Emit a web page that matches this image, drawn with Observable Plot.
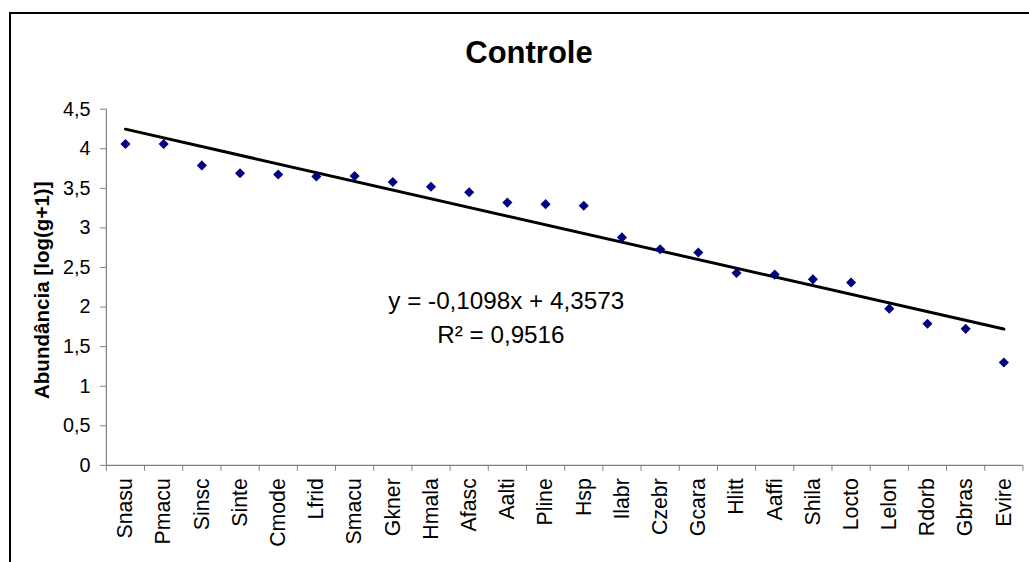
<!DOCTYPE html>
<html>
<head>
<meta charset="utf-8">
<script src="https://cdn.jsdelivr.net/npm/d3@7"></script>
<script src="https://cdn.jsdelivr.net/npm/@observablehq/plot@0.6"></script>
<style>
html, body { margin: 0; padding: 0; background: #fff; overflow: hidden; }
#wrap { position: relative; width: 1029px; height: 562px; overflow: hidden; font-family: "Liberation Sans", Arial, sans-serif; }
#frame { position: absolute; left: 9px; top: 12px; width: 1100px; height: 700px; border: 2px solid #000; box-sizing: border-box; pointer-events: none; }
#title { position: absolute; left: 0; top: 38px; width: 1058px; text-align: center; font-weight: bold; font-size: 31px; line-height: 30px; }
#chart { position: absolute; left: 0; top: 80px; }
#chart g[aria-label="y-axis tick label"] { font-size: 20px; }
#chart g[aria-label="x-axis tick label"] { font-size: 21.5px; }
</style>
</head>
<body>
<div id="wrap">
  <div id="title">Controle</div>
  <div id="chart"></div>
  <div id="frame"></div>
</div>
<script>
// Species (x categories), in rank order
const species = ["Snasu","Pmacu","Sinsc","Sinte","Cmode","Lfrid","Smacu","Gkner","Hmala","Afasc","Aalti","Pline",
                 "Hsp","Ilabr","Czebr","Gcara","Hlitt","Aaffi","Shila","Locto","Lelon","Rdorb","Gbras","Evire"];
// Abundance [log(g+1)]
const abundance = [4.06, 4.06, 3.79, 3.69, 3.675, 3.65, 3.655, 3.58, 3.52, 3.45, 3.32, 3.30,
                   3.28, 2.88, 2.73, 2.69, 2.43, 2.41, 2.35, 2.31, 1.98, 1.79, 1.725, 1.30];
// Y tick values
const yTicks = [0, 0.5, 1, 1.5, 2, 2.5, 3, 3.5, 4, 4.5];
// Linear trend shown on the chart
const slope = -0.1098;
const intercept = 4.3573;
const r2 = 0.9516;

const comma = s => String(s).replace(".", ",");
const data = species.map((s, i) => ({name: s, rank: i + 1, value: abundance[i]}));
const ranks = data.map(d => d.rank);
const bounds = [0, ...ranks].map(r => r + 0.5);
const trend = [ranks[0], ranks[ranks.length - 1]].map(r => ({rank: r, value: intercept + slope * r}));
const eqText = `y = ${comma(slope)}x + ${comma(intercept)}`;
const r2Text = `R² = ${comma(r2)}`;

const gray = "#808080";
const W = 1040, H = 482;
const chart = Plot.plot({
  width: W,
  height: H,
  marginLeft: 107,
  marginRight: W - (107 + 24 * 38.6),
  marginTop: 29,
  marginBottom: 93,
  style: {fontFamily: "'Liberation Sans', Arial, sans-serif", background: "transparent", color: "#000"},
  x: {type: "linear", domain: [0.5, species.length + 0.5], axis: null},
  y: {domain: [0, 4.5], axis: null},
  marks: [
    // axes lines
    Plot.ruleY([0], {stroke: gray, strokeWidth: 1.2}),
    Plot.ruleX([0.5], {stroke: gray, strokeWidth: 1.2}),
    // y ticks and labels
    Plot.axisY(yTicks, {tickSize: 6, stroke: gray, tickFormat: null, text: null, label: null}),
    Plot.axisY(yTicks, {tickSize: 0, tickPadding: 16, tickFormat: comma, fontSize: 20, fill: "#000", label: null}),
    // x boundary ticks
    Plot.axisX(bounds, {tickSize: 6, stroke: gray, tickFormat: null, text: null, label: null}),
    // x category labels
    Plot.axisX(ranks, {tickSize: 0, tickPadding: 13, tickRotate: -90, tickFormat: r => species[r - 1], fontSize: 21.5, fill: "#000", label: null}),
    // y label
    Plot.text(["Abundância [log(g+1)]"], {frameAnchor: "left", textAnchor: "middle", dx: -65, dy: 3, rotate: -90, fontWeight: "bold", fontSize: 20.8, fill: "#000"}),
    // trend line
    Plot.line(trend, {x: "rank", y: "value", stroke: "#000", strokeWidth: 3}),
    // points
    Plot.dot(data, {x: "rank", y: "value", symbol: "diamond2", r: 4.6, fill: "#000080", stroke: "none"}),
    // equation
    Plot.text([eqText], {x: 10.97, y: 2.076, fontSize: 24.5, fill: "#000"}),
    Plot.text([r2Text], {x: 10.83, y: 1.65, fontSize: 24.5, fill: "#000"})
  ]
});
document.getElementById("chart").appendChild(chart);
</script>
</body>
</html>
